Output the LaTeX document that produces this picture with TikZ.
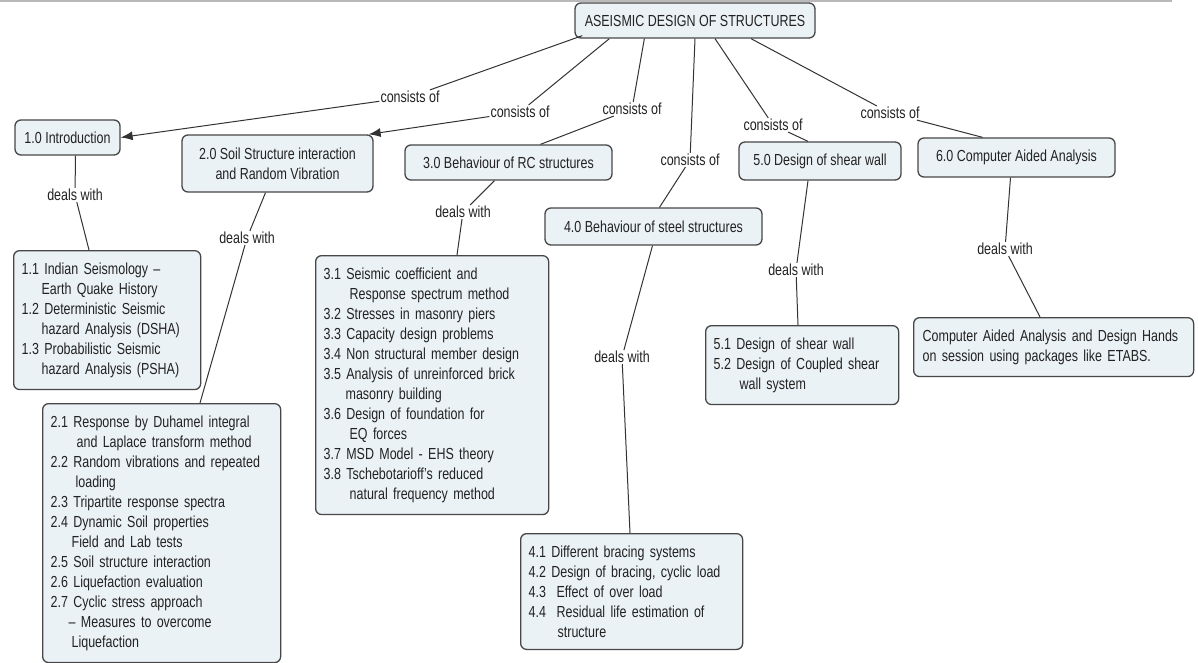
\documentclass[tikz,border=0pt]{standalone}
\usepackage{fontspec}
\setmainfont[FakeStretch=0.78]{Liberation Sans}
\usetikzlibrary{arrows.meta,calc}
\definecolor{boxfill}{HTML}{EBF2F5}
\definecolor{boxline}{HTML}{474747}
\definecolor{txt}{HTML}{222222}
\definecolor{lnk}{HTML}{333333}
\begin{document}
\begin{tikzpicture}[x=1pt,y=-1pt,
  concept/.style={draw=boxline, fill=boxfill, rounded corners=6pt, line width=1.3pt, text=txt, font=\fontsize{16}{20}\selectfont, inner sep=0pt, align=center},
  listbox/.style={draw=boxline, fill=boxfill, rounded corners=6pt, line width=1.3pt, text=txt, font=\fontsize{16}{20}\selectfont, inner xsep=8pt, inner ysep=12pt, align=left, anchor=north west},
  lbl/.style={text=txt, font=\fontsize{16}{20}\selectfont, inner sep=1pt},
  link/.style={draw=lnk, line width=1pt},
  arrowlink/.style={link, -{Latex[length=12pt,width=9pt]}}
]
\useasboundingbox (0,0) rectangle (1198,663);
\fill[white] (0,0) rectangle (1198,663);
\draw[gray!55, line width=1.5pt] (0,1) -- (1172,1);

% main concepts
\node[concept, minimum width=240pt, minimum height=35pt] (root) at (695,20.5) {ASEISMIC DESIGN OF STRUCTURES};
\node[concept, minimum width=105pt, minimum height=35pt] (n1) at (67.5,137.5) {1.0 Introduction};
\node[concept, minimum width=191pt, minimum height=57pt] (n2) at (277.5,163.5) {2.0 Soil Structure interaction\\and Random Vibration};
\node[concept, minimum width=207pt, minimum height=35pt] (n3) at (508.5,162.5) {3.0 Behaviour of RC structures};
\node[concept, minimum width=217pt, minimum height=37pt] (n4) at (653.5,226.5) {4.0 Behaviour of steel structures};
\node[concept, minimum width=162pt, minimum height=38pt] (n5) at (820,161) {5.0 Design of shear wall};
\node[concept, minimum width=197pt, minimum height=39pt] (n6) at (1016.5,157.5) {6.0 Computer Aided Analysis};

% detail boxes
\node[listbox, text width=171pt] (s1) at (13,250) {1.1 Indian Seismology –\\\hspace*{20pt}Earth Quake History\\1.2 Deterministic Seismic\\\hspace*{20pt}hazard Analysis (DSHA)\\1.3 Probabilistic Seismic\\\hspace*{20pt}hazard Analysis (PSHA)};
\node[listbox, text width=222pt] (s2) at (42,403) {2.1 Response by Duhamel integral\\\hspace*{26pt}and Laplace transform method\\2.2 Random vibrations and repeated\\\hspace*{25pt}loading\\2.3 Tripartite response spectra\\2.4 Dynamic Soil properties\\\hspace*{21pt}Field and Lab tests\\2.5 Soil structure interaction\\2.6 Liquefaction evaluation\\2.7 Cyclic stress approach\\\hspace*{18pt}– Measures to overcome\\\hspace*{21pt}Liquefaction};
\node[listbox, text width=217pt] (s3) at (315,255) {3.1 Seismic coefficient and\\\hspace*{26pt}Response spectrum method\\3.2 Stresses in masonry piers\\3.3 Capacity design problems\\3.4 Non structural member design\\3.5 Analysis of unreinforced brick\\\hspace*{22pt}masonry building\\3.6 Design of foundation for\\\hspace*{26pt}EQ forces\\3.7 MSD Model - EHS theory\\3.8 Tschebotarioff’s reduced\\\hspace*{26pt}natural frequency method};
\node[listbox, text width=206pt] (s4) at (520,533) {4.1 Different bracing systems\\4.2 Design of bracing, cyclic load\\4.3\ \ Effect of over load\\4.4\ \ Residual life estimation of\\\hspace*{29pt}structure};
\node[listbox, text width=177pt] (s5) at (705,325) {5.1 Design of shear wall\\5.2 Design of Coupled shear\\\hspace*{26pt}wall system};
\node[listbox, text width=262pt, inner xsep=9pt] (s6) at (913,317) {Computer Aided Analysis and Design Hands\\on session using packages like ETABS.};

% linking phrases
\node[lbl] (c1) at (410,97) {consists of};
\node[lbl] (c2) at (520,112) {consists of};
\node[lbl] (c3) at (632,109) {consists of};
\node[lbl] (c4) at (690,160) {consists of};
\node[lbl] (c5) at (773,125) {consists of};
\node[lbl] (c6) at (890,113) {consists of};
\node[lbl] (d1) at (75,195) {deals with};
\node[lbl] (d2) at (247,238) {deals with};
\node[lbl] (d3) at (463,212) {deals with};
\node[lbl] (d4) at (622,357) {deals with};
\node[lbl] (d5) at (796,270) {deals with};
\node[lbl] (d6) at (1005,249) {deals with};

% connectors
\draw[link] ($(root.south west)+(8,-3)$) -- (c1);
\draw[arrowlink] (c1) -- (n1.east);
\draw[link] ($(root.south west)+(35,0)$) -- (c2);
\draw[arrowlink] (c2) -- ($(n2.north east)+(-5,0)$);
\draw[link] ($(root.south west)+(70,0)$) -- (c3);
\draw[link] (c3) -- ($(n3.north)+(32,0)$);
\draw[link] (root.south) -- (c4);
\draw[link] (c4) -- ($(n4.north)+(6,0)$);
\draw[link] ($(root.south)+(20,0)$) -- (c5);
\draw[link] (c5) -- ($(n5.north)+(-12,0)$);
\draw[link] ($(root.south)+(56,0)$) -- (c6);
\draw[link] (c6) -- ($(n6.north)+(-34,0)$);

\draw[link] ($(n1.south)+(8,0)$) -- (d1);
\draw[link] (d1) -- ($(s1.north west)+(76,0)$);
\draw[link] ($(n2.south)+(-12,0)$) -- (d2);
\draw[link] (d2) -- ($(s2.north west)+(158,0)$);
\draw[link] ($(n3.south)+(-14,0)$) -- (d3);
\draw[link] (d3) -- ($(s3.north west)+(142,0)$);
\draw[link] ($(n4.south)+(-1,0)$) -- (d4);
\draw[link] (d4) -- ($(s4.north west)+(110,0)$);
\draw[link] ($(n5.south)+(-12,0)$) -- (d5);
\draw[link] (d5) -- ($(s5.north west)+(93,0)$);
\draw[link] ($(n6.south)+(-6,0)$) -- (d6);
\draw[link] (d6) -- ($(s6.north west)+(127,0)$);
\end{tikzpicture}
\end{document}
